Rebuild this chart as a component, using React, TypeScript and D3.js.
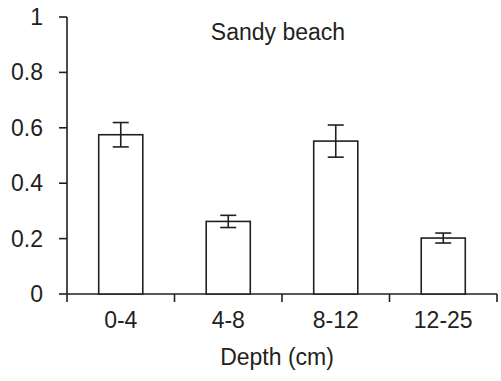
import React from "react";
import * as d3 from "d3";

const categories = ["0-4", "4-8", "8-12", "12-25"];
const means = [0.575, 0.262, 0.552, 0.202];
const errors = [0.044, 0.022, 0.058, 0.018];
const yTicks = [0, 0.2, 0.4, 0.6, 0.8, 1];
const title = "Sandy beach";
const xTitle = "Depth (cm)";

const W = 501;
const H = 381;
const left = 67;
const right = 497;
const top = 17;
const bottom = 294;
const font = "'Liberation Sans', Arial, sans-serif";
const ink = "#231f20";

export default function App() {
  const x = d3.scaleBand<string>().domain(categories).range([left, right]).paddingInner(0).paddingOuter(0);
  const y = d3.scaleLinear().domain([0, 1]).range([bottom, top]);
  const bw = x.bandwidth() * 0.41;
  const capHalf = 8;
  const xTickPos = [left, ...categories.map((c) => (x(c) as number) + x.bandwidth())];
  return (
    <svg width={W} height={H} style={{ position: "absolute", left: 0, top: 0, background: "#fff" }}>
      <g fill="none" stroke={ink} strokeWidth={1.6}>
        <line x1={left} x2={left} y1={y(1)} y2={bottom} />
        <line x1={left} x2={right} y1={bottom} y2={bottom} />
        {yTicks.map((t) => (
          <line key={t} x1={left - 8} x2={left} y1={y(t)} y2={y(t)} />
        ))}
        {xTickPos.map((p, i) => (
          <line key={i} x1={p} x2={p} y1={bottom} y2={bottom + 8} />
        ))}
        {categories.map((c, i) => {
          const cx = (x(c) as number) + x.bandwidth() / 2;
          return (
            <g key={c}>
              <rect x={cx - bw / 2} y={y(means[i])} width={bw} height={bottom - y(means[i])} fill="#fff" />
              <line x1={cx} x2={cx} y1={y(means[i] + errors[i])} y2={y(means[i] - errors[i])} />
              <line x1={cx - capHalf} x2={cx + capHalf} y1={y(means[i] + errors[i])} y2={y(means[i] + errors[i])} />
              <line x1={cx - capHalf} x2={cx + capHalf} y1={y(means[i] - errors[i])} y2={y(means[i] - errors[i])} />
            </g>
          );
        })}
      </g>
      <g fontFamily={font} fontSize={23} fill={ink}>
        {yTicks.map((t) => (
          <text key={t} x={43} y={y(t)} dy="0.35em" textAnchor="end">
            {d3.format("~g")(t)}
          </text>
        ))}
        {categories.map((c) => (
          <text key={c} x={(x(c) as number) + x.bandwidth() / 2} y={327.5} textAnchor="middle">
            {c}
          </text>
        ))}
        <text x={278} y={39.5} textAnchor="middle">{title}</text>
        <text x={277} y={365} textAnchor="middle">{xTitle}</text>
      </g>
    </svg>
  );
}
